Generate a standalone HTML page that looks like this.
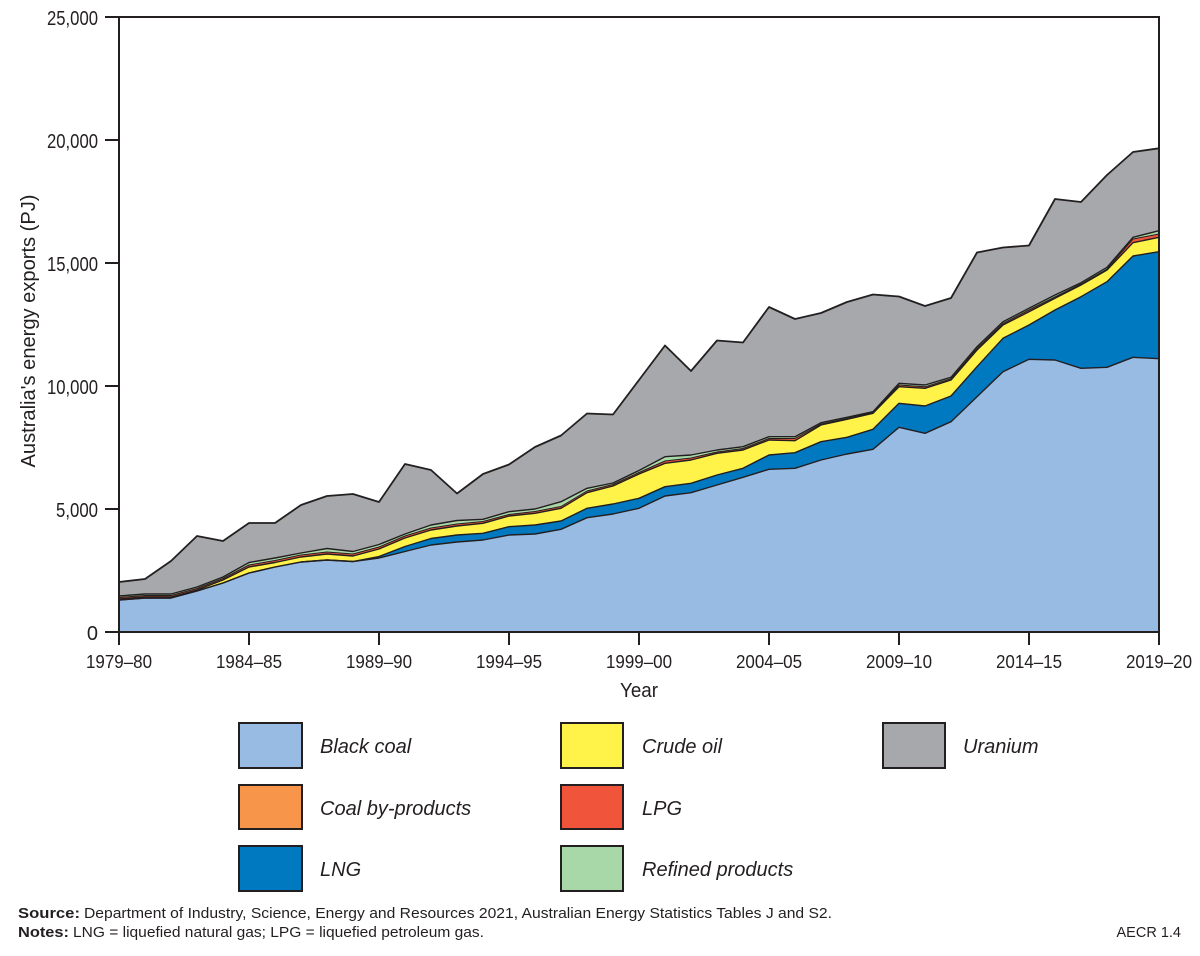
<!DOCTYPE html>
<html>
<head>
<meta charset="utf-8">
<style>
html,body{margin:0;padding:0;background:#fff;}
svg{display:block;}
text{font-family:"Liberation Sans",Arial,sans-serif;fill:#231f20;}
</style>
</head>
<body>
<svg width="1200" height="956" viewBox="0 0 1200 956" xmlns="http://www.w3.org/2000/svg">
<rect x="0" y="0" width="1200" height="956" fill="#fff"/>

<!-- Uranium (total) -->
<polygon fill="#a7a8ab" points="119,582 145,579 171,561 197,536 223,541 249,523 275,523 301,505 327,496 353,494 379,502 405,464 431,470 457,493.5 483,474 509,464.5 535,447 561,435.5 587,413.5 613,414.5 639,380 665,345.5 691,371 717,340.5 743,342.5 769,307 795,319 821,313 847,302 873,294.5 899,296.5 925,306 951,298 977,252.5 1003,247.5 1029,245.5 1055,199 1081,202 1107,175 1133,152 1159,148.3 1159,632 119,632"/>
<!-- Refined products -->
<polygon fill="#a8d8a8" points="119,596 145,594 171,594 197,587 223,577 249,562.5 275,558 301,553 327,548.5 353,551.5 379,544.5 405,534 431,525 457,520.5 483,519.3 509,511.7 535,509 561,501.7 587,488.3 613,483 639,470.5 665,456.7 691,455 717,450 743,446.7 769,436.7 795,436.7 821,422.7 847,417.3 873,411.7 899,383.3 925,385 951,377.3 977,346.7 1003,321.7 1029,308.3 1055,295 1081,282.7 1107,267.3 1133,237.3 1159,230.7 1159,632 119,632"/>
<!-- LPG -->
<polygon fill="#f0553b" points="119,597.5 145,595.5 171,595.5 197,588.5 223,578.5 249,565 275,560.5 301,555 327,552 353,554 379,547 405,536 431,528 457,524 483,521.5 509,514.5 535,511.5 561,506.5 587,491 613,484.5 639,472.5 665,461 691,458 717,452 743,448.5 769,438.5 795,438.5 821,424 847,418.5 873,412.5 899,385 925,386.8 951,378.8 977,348.5 1003,323.5 1029,310 1055,297 1081,284 1107,269 1133,239 1159,234 1159,632 119,632"/>
<!-- Crude oil -->
<polygon fill="#fff34a" points="119,599 145,597 171,597 197,590 223,580 249,567 275,562.5 301,557 327,554 353,556 379,549 405,538 431,530 457,526 483,523.3 509,516 535,513.3 561,508.3 587,492.7 613,486 639,474 665,463.3 691,460 717,453.3 743,450 769,440 795,440.7 821,425 847,419.3 873,413.3 899,386.7 925,388.3 951,380 977,350 1003,325 1029,311.7 1055,298.3 1081,285 1107,270 1133,242.7 1159,237.3 1159,632 119,632"/>
<!-- LNG -->
<polygon fill="#0079c1" points="119,600 145,598 171,598 197,591 223,583 249,573 275,567 301,562 327,560 353,561.5 379,556.5 405,546.5 431,538.5 457,535 483,533.3 509,526.7 535,525 561,521 587,508.3 613,504 639,498.3 665,486.7 691,483.3 717,475 743,468.3 769,455 795,452.7 821,441.7 847,437.3 873,429.3 899,403.3 925,406 951,396 977,366.7 1003,338.3 1029,325 1055,310 1081,296.7 1107,281.7 1133,256 1159,251.7 1159,632 119,632"/>
<!-- Black coal -->
<polygon fill="#97bbe2" points="119,600 145,598 171,598 197,591 223,583 249,573 275,567 301,562 327,560 353,561.5 379,558 405,551.5 431,545 457,542 483,540 509,535 535,534 561,529.3 587,517.7 613,514 639,508.3 665,496 691,492.7 717,485 743,477.3 769,469.3 795,468.3 821,460 847,454 873,449.3 899,427.3 925,433.3 951,421.7 977,396.7 1003,371.7 1029,359.3 1055,360 1081,368.3 1107,367.3 1133,357.3 1159,358.7 1159,632 119,632"/>

<g fill="none" stroke="#231f20" stroke-width="1.4" stroke-linejoin="round">
<polyline points="119,596 145,594 171,594 197,587 223,577 249,562.5 275,558 301,553 327,548.5 353,551.5 379,544.5 405,534 431,525 457,520.5 483,519.3 509,511.7 535,509 561,501.7 587,488.3 613,483 639,470.5 665,456.7 691,455 717,450 743,446.7 769,436.7 795,436.7 821,422.7 847,417.3 873,411.7 899,383.3 925,385 951,377.3 977,346.7 1003,321.7 1029,308.3 1055,295 1081,282.7 1107,267.3 1133,237.3 1159,230.7"/>
<polyline stroke-width="1" points="119,597.5 145,595.5 171,595.5 197,588.5 223,578.5 249,565 275,560.5 301,555 327,552 353,554 379,547 405,536 431,528 457,524 483,521.5 509,514.5 535,511.5 561,506.5 587,491 613,484.5 639,472.5 665,461 691,458 717,452 743,448.5 769,438.5 795,438.5 821,424 847,418.5 873,412.5 899,385 925,386.8 951,378.8 977,348.5 1003,323.5 1029,310 1055,297 1081,284 1107,269 1133,239 1159,234"/>
<polyline points="119,599 145,597 171,597 197,590 223,580 249,567 275,562.5 301,557 327,554 353,556 379,549 405,538 431,530 457,526 483,523.3 509,516 535,513.3 561,508.3 587,492.7 613,486 639,474 665,463.3 691,460 717,453.3 743,450 769,440 795,440.7 821,425 847,419.3 873,413.3 899,386.7 925,388.3 951,380 977,350 1003,325 1029,311.7 1055,298.3 1081,285 1107,270 1133,242.7 1159,237.3"/>
<polyline points="119,600 145,598 171,598 197,591 223,583 249,573 275,567 301,562 327,560 353,561.5 379,556.5 405,546.5 431,538.5 457,535 483,533.3 509,526.7 535,525 561,521 587,508.3 613,504 639,498.3 665,486.7 691,483.3 717,475 743,468.3 769,455 795,452.7 821,441.7 847,437.3 873,429.3 899,403.3 925,406 951,396 977,366.7 1003,338.3 1029,325 1055,310 1081,296.7 1107,281.7 1133,256 1159,251.7"/>
<polyline points="119,600 145,598 171,598 197,591 223,583 249,573 275,567 301,562 327,560 353,561.5 379,558 405,551.5 431,545 457,542 483,540 509,535 535,534 561,529.3 587,517.7 613,514 639,508.3 665,496 691,492.7 717,485 743,477.3 769,469.3 795,468.3 821,460 847,454 873,449.3 899,427.3 925,433.3 951,421.7 977,396.7 1003,371.7 1029,359.3 1055,360 1081,368.3 1107,367.3 1133,357.3 1159,358.7"/>
<polyline stroke-width="1.8" points="119,582 145,579 171,561 197,536 223,541 249,523 275,523 301,505 327,496 353,494 379,502 405,464 431,470 457,493.5 483,474 509,464.5 535,447 561,435.5 587,413.5 613,414.5 639,380 665,345.5 691,371 717,340.5 743,342.5 769,307 795,319 821,313 847,302 873,294.5 899,296.5 925,306 951,298 977,252.5 1003,247.5 1029,245.5 1055,199 1081,202 1107,175 1133,152 1159,148.3"/>
</g>

<rect x="119" y="17" width="1040" height="615" fill="none" stroke="#231f20" stroke-width="2"/>

<g stroke="#231f20" stroke-width="2">
<line x1="105" y1="17" x2="119" y2="17"/>
<line x1="105" y1="140" x2="119" y2="140"/>
<line x1="105" y1="263" x2="119" y2="263"/>
<line x1="105" y1="386" x2="119" y2="386"/>
<line x1="105" y1="509" x2="119" y2="509"/>
<line x1="105" y1="632" x2="119" y2="632"/>
</g>
<g stroke="#231f20" stroke-width="2">
<line x1="119" y1="632" x2="119" y2="645"/>
<line x1="249" y1="632" x2="249" y2="645"/>
<line x1="379" y1="632" x2="379" y2="645"/>
<line x1="509" y1="632" x2="509" y2="645"/>
<line x1="639" y1="632" x2="639" y2="645"/>
<line x1="769" y1="632" x2="769" y2="645"/>
<line x1="899" y1="632" x2="899" y2="645"/>
<line x1="1029" y1="632" x2="1029" y2="645"/>
<line x1="1159" y1="632" x2="1159" y2="645"/>
</g>

<g font-size="20" text-anchor="end">
<text x="98" y="25" textLength="51" lengthAdjust="spacingAndGlyphs">25,000</text>
<text x="98" y="148" textLength="51" lengthAdjust="spacingAndGlyphs">20,000</text>
<text x="98" y="271" textLength="51" lengthAdjust="spacingAndGlyphs">15,000</text>
<text x="98" y="394" textLength="51" lengthAdjust="spacingAndGlyphs">10,000</text>
<text x="98" y="517" textLength="42" lengthAdjust="spacingAndGlyphs">5,000</text>
<text x="98" y="640">0</text>
</g>

<g font-size="18" text-anchor="middle">
<text x="119" y="668" textLength="66" lengthAdjust="spacingAndGlyphs">1979–80</text>
<text x="249" y="668" textLength="66" lengthAdjust="spacingAndGlyphs">1984–85</text>
<text x="379" y="668" textLength="66" lengthAdjust="spacingAndGlyphs">1989–90</text>
<text x="509" y="668" textLength="66" lengthAdjust="spacingAndGlyphs">1994–95</text>
<text x="639" y="668" textLength="66" lengthAdjust="spacingAndGlyphs">1999–00</text>
<text x="769" y="668" textLength="66" lengthAdjust="spacingAndGlyphs">2004–05</text>
<text x="899" y="668" textLength="66" lengthAdjust="spacingAndGlyphs">2009–10</text>
<text x="1029" y="668" textLength="66" lengthAdjust="spacingAndGlyphs">2014–15</text>
<text x="1159" y="668" textLength="66" lengthAdjust="spacingAndGlyphs">2019–20</text>
</g>

<text x="639" y="697" font-size="20" text-anchor="middle" textLength="38" lengthAdjust="spacingAndGlyphs">Year</text>
<text transform="translate(35,331) rotate(-90)" font-size="20" text-anchor="middle" textLength="273" lengthAdjust="spacingAndGlyphs">Australia's energy exports (PJ)</text>

<g stroke="#231f20" stroke-width="2">
<rect x="239" y="723" width="63" height="45" fill="#97bbe2"/>
<rect x="239" y="785" width="63" height="44" fill="#f7964a"/>
<rect x="239" y="846" width="63" height="45" fill="#0079c1"/>
<rect x="561" y="723" width="62" height="45" fill="#fff34a"/>
<rect x="561" y="785" width="62" height="44" fill="#f0553b"/>
<rect x="561" y="846" width="62" height="45" fill="#a8d8a8"/>
<rect x="883" y="723" width="62" height="45" fill="#a7a8ab"/>
</g>
<g font-size="20" font-style="italic">
<text x="320" y="753">Black coal</text>
<text x="320" y="815">Coal by-products</text>
<text x="320" y="876">LNG</text>
<text x="642" y="753">Crude oil</text>
<text x="642" y="815">LPG</text>
<text x="642" y="876">Refined products</text>
<text x="963" y="753">Uranium</text>
</g>

<g font-size="14.5">
<text x="18" y="918" font-weight="bold" textLength="62" lengthAdjust="spacingAndGlyphs">Source:</text>
<text x="84" y="918" textLength="748" lengthAdjust="spacingAndGlyphs">Department of Industry, Science, Energy and Resources 2021, Australian Energy Statistics Tables J and S2.</text>
<text x="18" y="937" font-weight="bold" textLength="51" lengthAdjust="spacingAndGlyphs">Notes:</text>
<text x="73" y="937" textLength="411" lengthAdjust="spacingAndGlyphs">LNG = liquefied natural gas; LPG = liquefied petroleum gas.</text>
<text x="1181" y="937" text-anchor="end">AECR 1.4</text>
</g>
</svg>
</body>
</html>
